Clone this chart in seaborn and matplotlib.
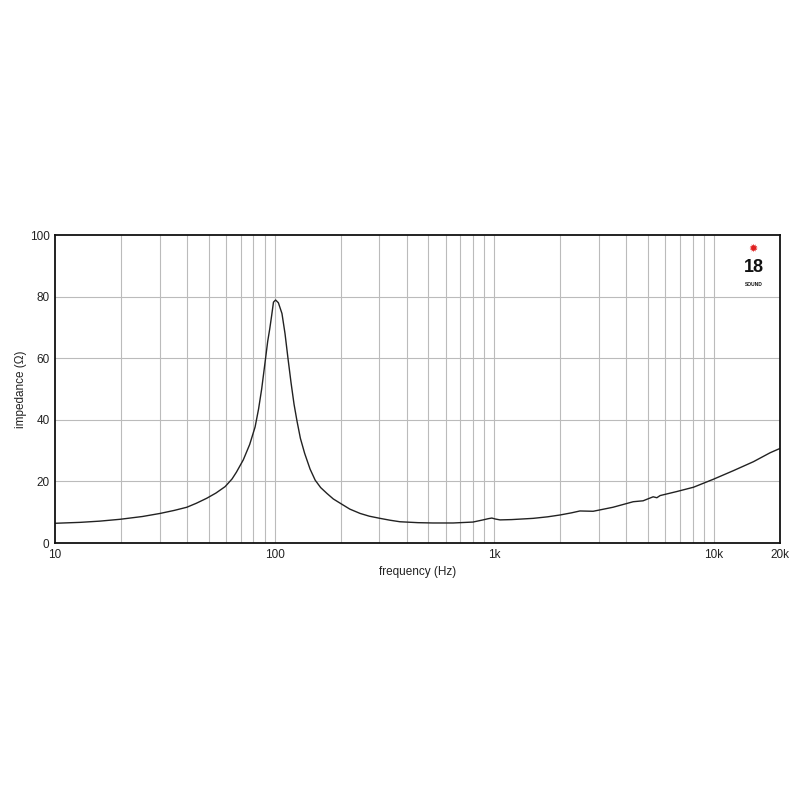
import numpy as np
import pandas as pd
import matplotlib
matplotlib.use("Agg")
import matplotlib.pyplot as plt
import seaborn as sns

# impedance curve
freq_hz = [10, 13, 16, 19.8, 25, 30.1, 35, 39.8, 44, 49, 54, 59.5, 64, 67, 72,
           77, 81.5, 84.5, 87.3, 90.4, 93, 95, 97, 98.8, 101, 104, 108, 111.5,
           115, 118.8, 122.6, 126.5, 131, 137, 145, 153, 162, 173, 185, 199,
           220, 245, 270, 302, 335, 372, 450, 526, 650, 800, 889, 940, 975,
           1010, 1062, 1200, 1503, 1750, 1995, 2250, 2455, 2820, 3470, 4000,
           4290, 4760, 5290, 5500, 5690, 6770, 8070, 9950, 12280, 15140,
           18030, 20000]
impedance = [6.4, 6.7, 7.1, 7.7, 8.6, 9.6, 10.6, 11.6, 12.9, 14.5, 16.2, 18.3,
             20.8, 23.0, 27.0, 32.0, 37.7, 43.5, 50.0, 58.5, 65.5, 69.5, 74.0,
             78.2, 78.9, 78.0, 74.5, 68.0, 60.0, 52.0, 45.0, 39.5, 34.0, 29.1,
             24.0, 20.4, 18.0, 16.1, 14.3, 12.9, 11.0, 9.6, 8.7, 8.0, 7.4, 6.9,
             6.6, 6.5, 6.5, 6.8, 7.5, 7.9, 8.1, 7.8, 7.5, 7.6, 8.0, 8.5, 9.1,
             9.8, 10.4, 10.3, 11.6, 12.8, 13.4, 13.7, 15.0, 14.7, 15.4, 16.7,
             18.1, 20.7, 23.5, 26.4, 29.3, 30.7]

x_ticks = [10, 100, 1000, 10000, 20000]
x_tick_labels = ["10", "100", "1k", "10k", "20k"]
y_ticks = [0, 20, 40, 60, 80, 100]

df = pd.DataFrame({"freq": freq_hz, "imp": impedance})

sns.set_theme(style="white")
plt.rcParams["font.family"] = ["Liberation Sans", "DejaVu Sans"]

fig = plt.figure(figsize=(8, 8), dpi=100)
fig.patch.set_facecolor("white")
ax = fig.add_axes([0.06875, 0.32125, 0.90625, 0.385])

sns.lineplot(data=df, x="freq", y="imp", color="#222222", linewidth=1.0, ax=ax)

ax.set_xscale("log")
ax.set_xlim(10, 20000)
ax.set_ylim(0, 100)

# grid: every 1..9 x decade vertically, every 20 horizontally
for dec in [10, 100, 1000, 10000]:
    for m in range(1, 10):
        f = dec * m
        if 10 < f < 20000:
            ax.axvline(f, color="#bbbbbb", linewidth=0.8, zorder=0)
for yv in [20, 40, 60, 80]:
    ax.axhline(yv, color="#bbbbbb", linewidth=0.8, zorder=0)

ax.set_xticks(x_ticks)
ax.set_xticklabels(x_tick_labels)
ax.xaxis.set_minor_locator(matplotlib.ticker.NullLocator())
ax.set_yticks(y_ticks)
ax.tick_params(axis="both", length=0, labelsize=8.5, colors="#222222", pad=4)

ax.set_xlabel("frequency (Hz)", fontsize=8.5, color="#222222", labelpad=4)
ax.set_ylabel("impedance (\u03a9)", fontsize=8.5, color="#222222", labelpad=2)

for s in ax.spines.values():
    s.set_visible(True)
    s.set_color("#111111")
    s.set_linewidth(1.3)

# logo
ax.text(0.9635, 0.955, "\u2739", transform=ax.transAxes, ha="center", va="center",
        color="#e02020", fontsize=8, family=["DejaVu Sans"])
ax.text(0.9635, 0.895, "18", transform=ax.transAxes, ha="center", va="center",
        color="#111111", fontsize=13, fontweight="bold", family=["Liberation Sans Narrow", "Liberation Sans"])
ax.text(0.9635, 0.838, "SOUND", transform=ax.transAxes, ha="center", va="center",
        color="#111111", fontsize=3.5, fontweight="bold")

fig.savefig("out.png", dpi=100, facecolor="white")
